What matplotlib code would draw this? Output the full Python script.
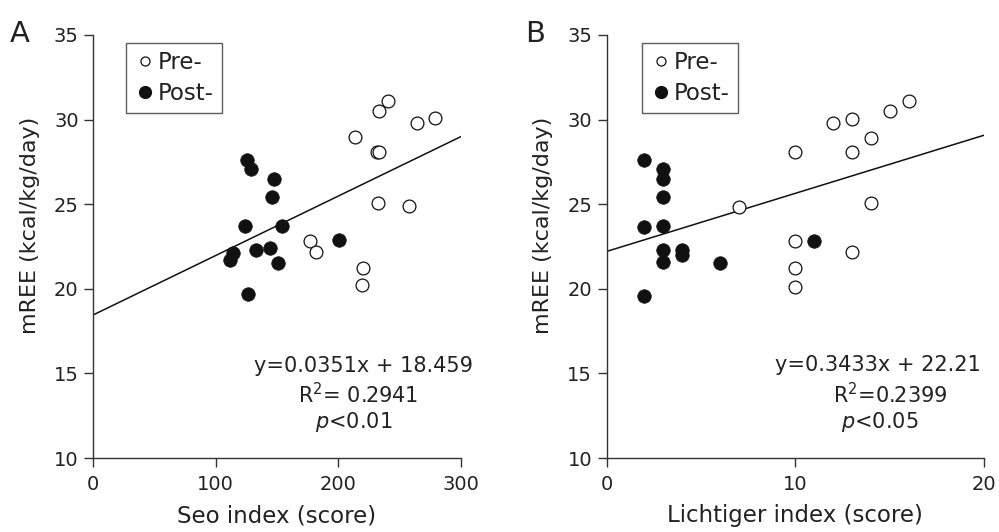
import matplotlib
matplotlib.use("Agg")
import matplotlib.pyplot as plt
import numpy as np
from matplotlib.lines import Line2D

plt.rcParams['font.family'] = ['DejaVu Sans']

# Panel A: Seo index
seo_pre_x = [240.4, 233.5, 264.6, 279.0, 214.0, 231.9, 233.5, 232.7, 257.8, 176.9, 181.6, 220.5, 219.4]
seo_pre_y = [31.1, 30.5, 29.8, 30.1, 29.0, 28.1, 28.1, 25.1, 24.9, 22.8, 22.2, 21.2, 20.2]
seo_post_x = [125.2, 129.0, 147.8, 145.6, 123.9, 154.1, 200.9, 132.9, 144.3, 113.8, 111.9, 151.1, 126.6]
seo_post_y = [27.6, 27.1, 26.5, 25.4, 23.7, 23.7, 22.9, 22.3, 22.4, 22.1, 21.7, 21.5, 19.7]

# Panel B: Lichtiger index
lic_pre_x = [16, 15, 12, 13, 14, 10, 13, 14, 7, 10, 13, 10, 10]
lic_pre_y = [31.1, 30.5, 29.8, 30.05, 28.9, 28.07, 28.1, 25.05, 24.85, 22.8, 22.16, 21.2, 20.1]
lic_post_x = [2, 3, 3, 3, 2, 3, 11, 3, 4, 4, 3, 6, 2]
lic_post_y = [27.6, 27.1, 26.5, 25.4, 23.65, 23.7, 22.85, 22.3, 22.3, 22.0, 21.6, 21.5, 19.6]

fitA = (0.0351, 18.459)
fitB = (0.3433, 22.21)

W, H = 999, 532
fig = plt.figure(figsize=(W/100, H/100), dpi=100)

TXT = '#222222'

def px_axes(l, r, t, b):
    return [l/W, 1 - b/H, (r-l)/W, (b-t)/H]

axA = fig.add_axes(px_axes(93.3, 460.7, 35, 458))
axB = fig.add_axes(px_axes(606.7, 984, 35, 458))

def style(ax, xmax, xticks, xlabel, ylx):
    ax.set_xlim(0, xmax)
    ax.set_ylim(10, 35)
    ax.set_xticks(xticks)
    ax.set_yticks([10, 15, 20, 25, 30, 35])
    for s in ['top', 'right']:
        ax.spines[s].set_visible(False)
    for s in ['left', 'bottom']:
        ax.spines[s].set_linewidth(1.0)
        ax.spines[s].set_color('#333333')
    ax.tick_params(direction='out', length=6.5, width=1.0, color='#333333',
                   labelsize=14, labelcolor=TXT)
    ax.tick_params(axis='x', pad=6)
    ax.tick_params(axis='y', pad=4)
    ax.set_xlabel(xlabel, fontsize=16.5, color=TXT, labelpad=7)
    ax.set_ylabel('mREE (kcal/kg/day)', fontsize=16, color=TXT)
    ax.yaxis.set_label_coords(ylx, 0.551)
    for sp in ax.spines.values():
        sp.set_clip_on(False)

def draw(ax, prex, prey, postx, posty, fit, xmax):
    ax.scatter(prex, prey, s=85, facecolors='white', edgecolors='#111111',
               linewidths=0.9, zorder=3, clip_on=False)
    ax.scatter(postx, posty, s=95, facecolors='#111111', edgecolors='#111111',
               linewidths=0.5, zorder=3, clip_on=False)
    xs = np.array([0, xmax])
    ax.plot(xs, fit[0]*xs + fit[1], color='#111111', lw=1.1, zorder=2)
    handles = [Line2D([], [], marker='o', ls='none', markersize=6.5, markerfacecolor='white',
                      markeredgecolor='#111111', markeredgewidth=0.9),
               Line2D([], [], marker='o', ls='none', markersize=8.5, markerfacecolor='#111111',
                      markeredgecolor='#111111')]
    return handles

style(axA, 300, [0, 100, 200, 300], 'Seo index (score)', -0.145)
style(axB, 20, [0, 10, 20], 'Lichtiger index (score)', -0.142)

hA = draw(axA, seo_pre_x, seo_pre_y, seo_post_x, seo_post_y, fitA, 300)
hB = draw(axB, lic_pre_x, lic_pre_y, lic_post_x, lic_post_y, fitB, 20)

for ax, h, x0 in [(axA, hA, 0.089), (axB, hB, 0.0928)]:
    leg = ax.legend(h, ['Pre-', 'Post-'], loc='upper left', bbox_to_anchor=(x0, 0.982),
                    borderaxespad=0, frameon=True, fancybox=False, fontsize=16.5,
                    handletextpad=0.05, handlelength=1.0, borderpad=0.35,
                    labelspacing=0.35)
    leg.get_frame().set_edgecolor('#333333')
    leg.get_frame().set_linewidth(1.0)
    for t in leg.get_texts():
        t.set_color(TXT)

ya = lambda py: (458 - py) / 423
xaA = lambda px: (px - 93.3) / 367.4
xaB = lambda px: (px - 606.7) / 377.3

fs = 15
axA.text(xaA(473), ya(372), 'y=0.0351x + 18.459', transform=axA.transAxes, ha='right',
         va='baseline', fontsize=fs, color=TXT)
axA.text(xaA(418), ya(403), 'R$^2$= 0.2941', transform=axA.transAxes, ha='right',
         va='baseline', fontsize=fs, color=TXT)
axA.text(xaA(354), ya(428), '$\\it{p}$<0.01', transform=axA.transAxes, ha='center',
         va='baseline', fontsize=fs, color=TXT)

axB.text(xaB(981), ya(371), 'y=0.3433x + 22.21', transform=axB.transAxes, ha='right',
         va='baseline', fontsize=fs, color=TXT)
axB.text(xaB(890), ya(403), 'R$^2$=0.2399', transform=axB.transAxes, ha='center',
         va='baseline', fontsize=fs, color=TXT)
axB.text(xaB(880), ya(428), '$\\it{p}$<0.05', transform=axB.transAxes, ha='center',
         va='baseline', fontsize=fs, color=TXT)

fig.text(10/W, 1 - 42/H, 'A', fontsize=21, color=TXT, va='baseline', ha='left')
fig.text(525/W, 1 - 42/H, 'B', fontsize=21, color=TXT, va='baseline', ha='left')

fig.savefig('out.png', dpi=100)
